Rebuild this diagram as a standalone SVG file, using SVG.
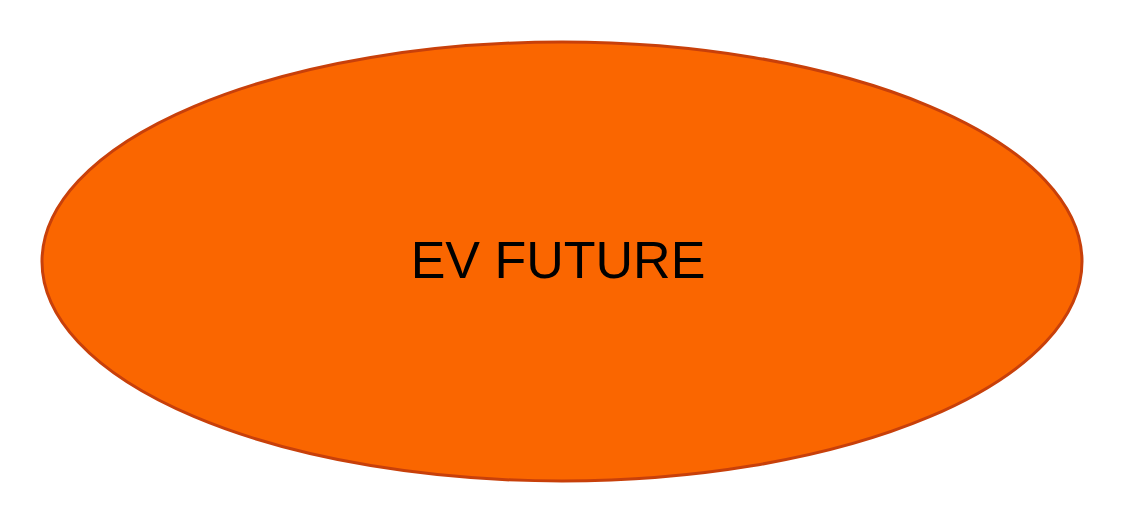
<svg xmlns="http://www.w3.org/2000/svg" width="1128" height="528" viewBox="0 0 1128 528">
<style>
.node-shape{fill:#FA6600;stroke:#C8400A;stroke-width:3}
.label{font-family:"Liberation Sans",Arial,sans-serif;font-size:52px;fill:#000000;text-anchor:middle}
</style>
<rect width="1128" height="528" fill="#FFFFFF"/>
<g id="connectors"></g>
<g id="ev-future">
<ellipse class="node-shape" cx="562" cy="261.5" rx="520" ry="219.5"/>
<text class="label" x="558" y="278">EV FUTURE</text>
</g>
</svg>
